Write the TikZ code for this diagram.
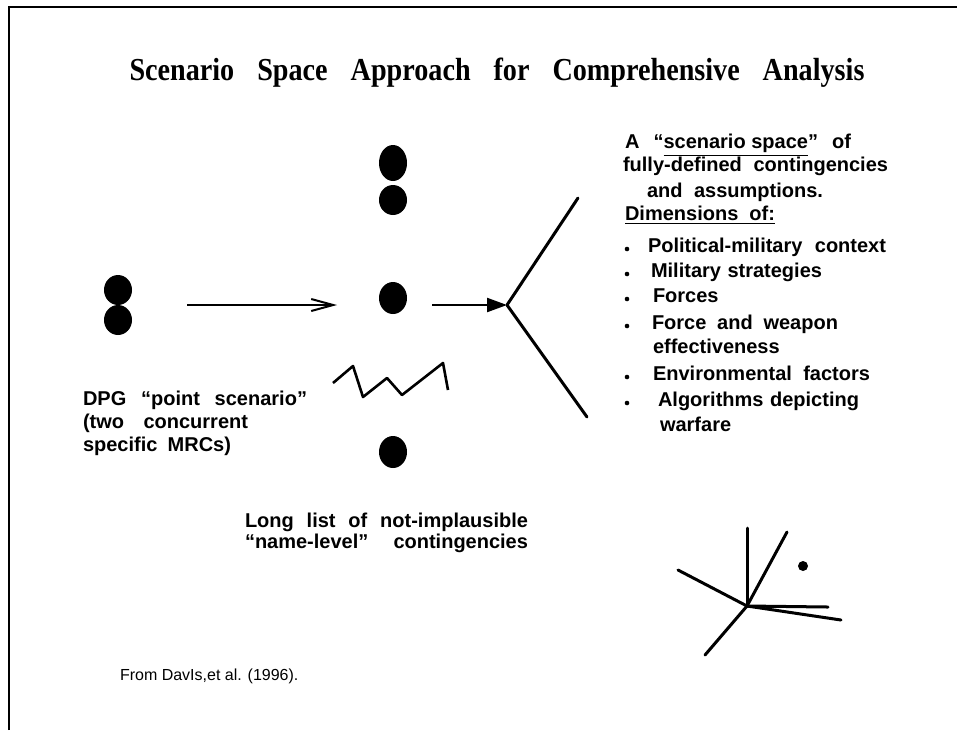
\documentclass[tikz,border=0pt]{standalone}
\usepackage{fontspec}
\setmainfont{Liberation Serif}
\newfontfamily\arialfont{Liberation Sans}
\usetikzlibrary{arrows.meta,shapes.geometric}

\newcommand{\spreadline}[2]{\makebox[#1][s]{#2}}

\begin{document}
\begin{tikzpicture}[
x=0.5pt, y=-0.5pt,
every node/.style={inner sep=0pt, outer sep=0pt},
openarrow/.style={-{Straight Barb[length=11pt,width=6pt]}, line width=1pt},
solidarrow/.style={-{Triangle[length=10pt,width=7pt]}, line width=1.1pt}
]

\useasboundingbox (0,0) rectangle (957,730);

% =====================================================
% Styles
% =====================================================

\tikzstyle{blob} =
[ellipse, fill=black,
minimum width=14pt,
minimum height=15pt]

\tikzstyle{caption} =
[anchor=base west,
font=\arialfont\bfseries\fontsize{10pt}{10pt}\selectfont]

\tikzstyle{bulletdot} =
[circle, fill=black,
minimum size=2.3pt]

\tikzstyle{stroke} =
[line width=1.5pt, line cap=round, line join=round]

% =====================================================
% Frame and title
% =====================================================

\draw [line width=1.3pt] (9,730) -- (9,7) -- (957,7);

\node (title) [anchor=base,
font=\bfseries\fontsize{16pt}{16pt}\selectfont]
at (497,80)
{\scalebox{0.88}[1]{\spreadline{417.6pt}{Scenario Space Approach for Comprehensive Analysis}}};

% =====================================================
% Nodes
% =====================================================

\node (pt1) [blob] at (118,290) {};
\node (pt2) [blob] at (118,320) {};
\coordinate (pair) at (118,305);

\node (nm1) [blob, minimum height=18pt] at (393,163) {};
\node (nm2) [blob] at (393,200) {};
\node (nm3) [blob, minimum height=16pt] at (393,298) {};
\node (nm4) [blob, minimum height=16pt] at (393,452) {};

\coordinate (fork) at (507,305);
\coordinate (forkup) at (578,198);
\coordinate (forklow) at (587,417);

\node (dpg1) [caption] at (83,405) {\spreadline{112pt}{DPG “point scenario”}};
\node (dpg2) [caption] at (83,428) {\spreadline{82.5pt}{(two concurrent}};
\node (dpg3) [caption] at (83,451) {\spreadline{74pt}{specific MRCs)}};

\node (long1) [caption] at (245,527) {\spreadline{141.5pt}{Long list of not-implausible}};
\node (long2) [caption] at (245,548) {\spreadline{141.5pt}{“name-level” contingencies}};

\node (space1) [caption] at (625,148) {\spreadline{113pt}{A “\underline{scenario space}” of}};
\node (space2) [caption] at (623,171) {\spreadline{132.5pt}{fully-defined contingencies}};
\node (space3) [caption] at (647,197) {\spreadline{88pt}{and assumptions.}};
\node (space4) [caption] at (625,220) {\underline{\spreadline{75pt}{Dimensions of:}}};

\foreach \yy/\xx/\ww/\txt in {
252/648/119pt/Political-military context,
277/651/85.5pt/Military strategies,
329/652/93pt/Force and weapon,
380/653/108.5pt/Environmental factors,
406/658/100.5pt/Algorithms depicting}
{
\node [caption] at (\xx,\yy) {\spreadline{\ww}{\txt}};
\node [bulletdot] at (627,\yy-3) {};
}

\node (forces) [caption] at (653,302) {Forces};
\node [bulletdot] at (627,299) {};
\node (effect) [caption] at (653,353) {effectiveness};
\node (warfare) [caption] at (660,431) {warfare};

\node (source) [anchor=base west,
font=\arialfont\fontsize{8pt}{8pt}\selectfont]
at (120,680) {From DavIs,et al. (1996).};

% =====================================================
% Arrows
% =====================================================

\draw [openarrow, shorten <=34.5pt, shorten >=21pt] (pair) -- (pair -| nm3.west);

\draw [solidarrow, shorten <=12.5pt] (nm3.east |- fork) -- (fork);

\draw [stroke] (forkup) -- (fork) -- (forklow);

% zigzag of contingencies
\draw [stroke, line width=1.3pt, line cap=butt]
(333,383) -- (353,366) -- (363,397) -- (387,378) -- (402,395) -- (443,363) -- (448,390);

% space of dimensions
\coordinate (hub) at (747,606);
\foreach \pt in {(747,528), (787,532), (678,570), (828,607), (841,620), (705,655)}
\draw [stroke] (hub) -- \pt;
\node (speck) [circle, fill=black, minimum size=5pt] at (803,566) {};

\end{tikzpicture}
\end{document}
